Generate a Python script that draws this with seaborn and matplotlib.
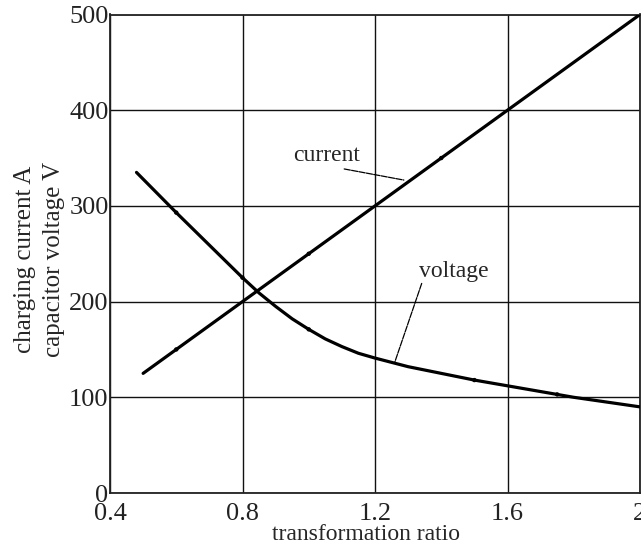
import numpy as np
import pandas as pd
import matplotlib
matplotlib.use('Agg')
import matplotlib.pyplot as plt
import seaborn as sns

# values
ratio_current = [0.5, 0.6, 0.8, 1.0, 1.2, 1.4, 1.6, 1.8, 2.0]
current = [125, 150, 200, 250, 300, 350, 400, 450, 500]

ratio_voltage = [0.48, 0.6, 0.7, 0.8, 0.85, 0.9, 0.95, 1.0, 1.05, 1.1, 1.15, 1.2,
                 1.3, 1.4, 1.5, 1.6, 1.7, 1.8, 1.9, 2.0]
voltage = [335, 293, 259, 225, 209, 195, 182, 171, 161, 153, 146, 141,
           132, 125, 118, 112, 106, 100, 95, 90]

# measured points marked on the curves
pts_current_x = [0.6, 1.0, 1.4]
pts_current_y = [150, 250, 350]
pts_voltage_x = [0.6, 0.8, 1.0, 1.5, 1.75]
pts_voltage_y = [293, 225, 171, 118, 103]

# curve labels and their leader lines (data coords)
lbl_current = (1.053, 353)
lead_current = [(1.107, 338.6), (1.287, 327)]
lbl_voltage = (1.438, 231)
lead_voltage = [(1.341, 219), (1.26, 137)]

sns.set_style('white')
plt.rcParams['font.family'] = ['Liberation Serif', 'DejaVu Serif']

fig = plt.figure(figsize=(6.41, 5.45), dpi=100)
ax = fig.add_axes([110 / 641, 1 - 493 / 545, 530 / 641, 478.5 / 545])

df_c = pd.DataFrame({'x': ratio_current, 'y': current})
df_v = pd.DataFrame({'x': ratio_voltage, 'y': voltage})
sns.lineplot(data=df_c, x='x', y='y', ax=ax, color='black', lw=2.3, zorder=3)
sns.lineplot(data=df_v, x='x', y='y', ax=ax, color='black', lw=2.3, zorder=3)
sns.scatterplot(x=pts_current_x, y=pts_current_y, ax=ax, color='black', s=10, zorder=4, edgecolor='none')
sns.scatterplot(x=pts_voltage_x, y=pts_voltage_y, ax=ax, color='black', s=10, zorder=4, edgecolor='none')

ax.set_xlim(0.4, 2.0)
ax.set_ylim(0, 500)
ax.set_xticks([0.4, 0.8, 1.2, 1.6, 2.0])
ax.set_xticklabels(['0.4', '0.8', '1.2', '1.6', '2'])
ax.set_yticks([0, 100, 200, 300, 400, 500])
ax.grid(True, color='#111111', lw=1.0)
ax.tick_params(length=0, labelsize=19, colors='#222222')
ax.tick_params(axis='x', pad=7)
ax.tick_params(axis='y', pad=1)
for s in ax.spines.values():
    s.set_color('#222222')
    s.set_linewidth(1.3)

ax.set_xlabel('transformation ratio', fontsize=17, va='top')
ax.xaxis.set_label_coords(0.483, -0.065)
ax.set_ylabel('charging current A\ncapacitor voltage V', fontsize=18, linespacing=1.4)
ax.yaxis.set_label_coords(-0.085, 0.489)

for pos, lead, txt in [(lbl_current, lead_current, 'current'),
                       (lbl_voltage, lead_voltage, 'voltage')]:
    ax.text(pos[0], pos[1], txt, fontsize=17, ha='center', va='center')
    ax.annotate('', xy=lead[1], xytext=lead[0],
                arrowprops=dict(arrowstyle='-', color='black', lw=0.9,
                                linestyle=(0, (5, 1)), shrinkA=0, shrinkB=0))

fig.savefig('out.png', dpi=100)
